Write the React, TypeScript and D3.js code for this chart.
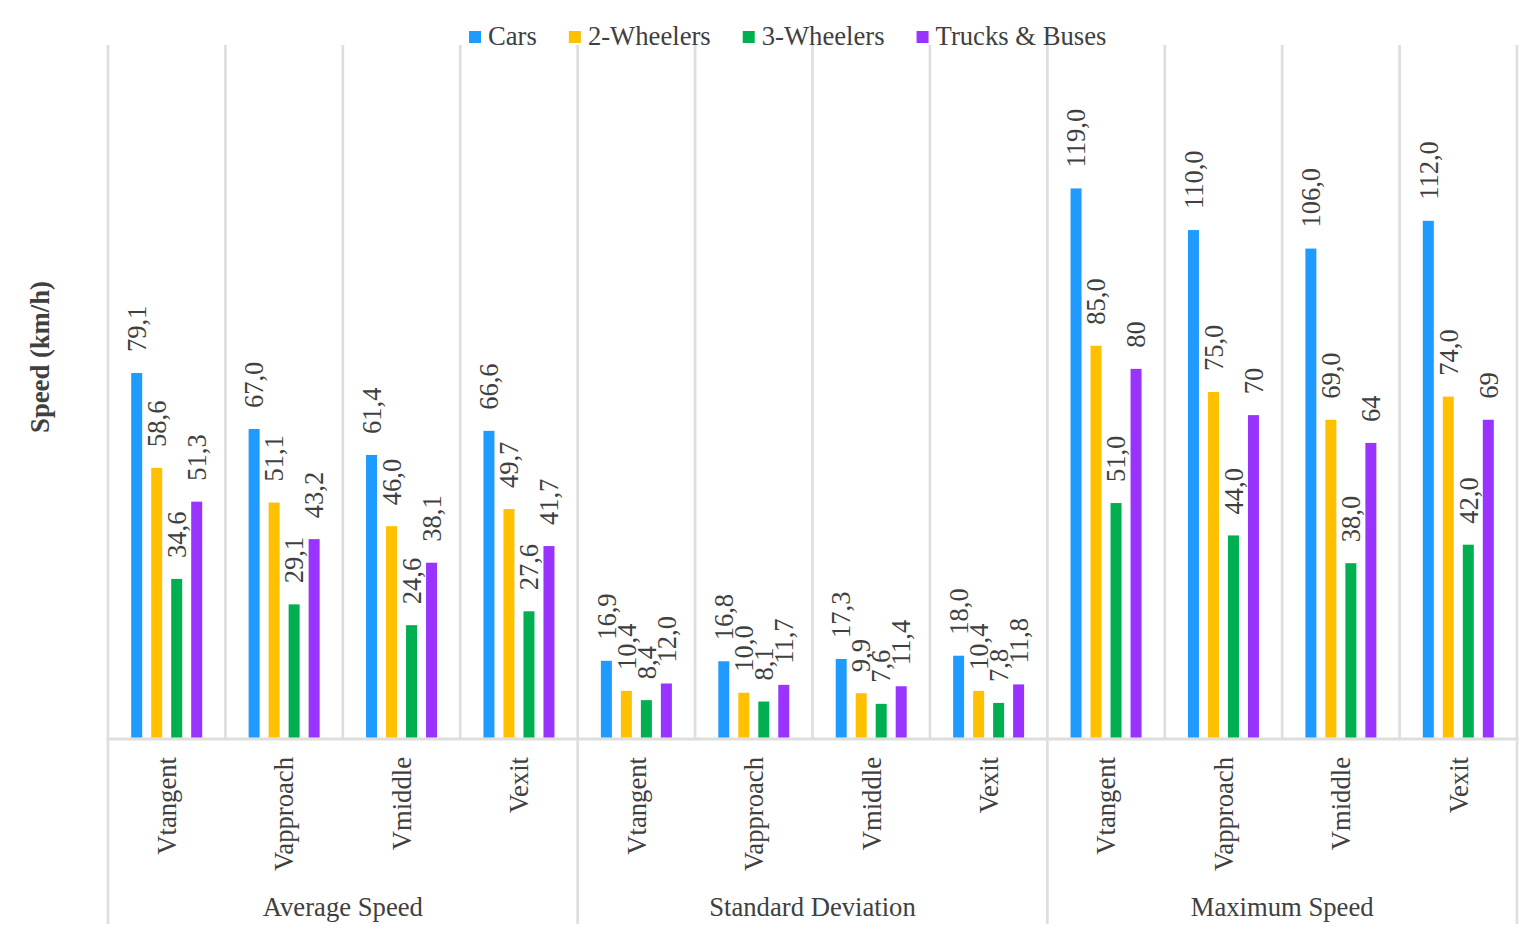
import React, { useEffect, useRef } from "react";
import * as d3 from "d3";

const groups = ["Average Speed", "Standard Deviation", "Maximum Speed"];
const metrics = ["Vtangent", "Vapproach", "Vmiddle", "Vexit"];
const series = ["Cars", "2-Wheelers", "3-Wheelers", "Trucks & Buses"];
const colors = ["#1F9BFF", "#FFC000", "#00B050", "#9933FF"];

// values per category: 4 metrics x 3 groups
const cars = [79.1, 67.0, 61.4, 66.6, 16.9, 16.8, 17.3, 18.0, 119.0, 110.0, 106.0, 112.0];
const twoWheelers = [58.6, 51.1, 46.0, 49.7, 10.4, 10.0, 9.9, 10.4, 85.0, 75.0, 69.0, 74.0];
const threeWheelers = [34.6, 29.1, 24.6, 27.6, 8.4, 8.1, 7.6, 7.8, 51.0, 44.0, 38.0, 42.0];
const trucks = [51.3, 43.2, 38.1, 41.7, 12.0, 11.7, 11.4, 11.8, 80, 70, 64, 69];
// labels of trucks in Maximum Speed are shown without decimals
const integerLabel = [false, false, false, false, false, false, false, false, true, true, true, true];

const yDomain = [0, 150];
const yTitle = "Speed (km/h)";

const W = 1534;
const H = 945;
const FONT = "'Liberation Serif', 'Times New Roman', serif";
const TEXT = "#404040";
const GRID = "#DEDEDC";

export default function App() {
  const ref = useRef<SVGSVGElement | null>(null);

  useEffect(() => {
    const svg = d3.select(ref.current);
    svg.selectAll("*").remove();

    const left = 108, right = 1517, top = 45, base = 739;
    const allSeries = [cars, twoWheelers, threeWheelers, trucks];
    const cats = d3.range(groups.length * metrics.length);

    const x = d3.scaleBand<number>().domain(cats).range([left, right]).padding(0);
    const inner = d3
      .scaleBand<number>()
      .domain(d3.range(series.length))
      .range([-40, 40])
      .paddingInner(0.45)
      .paddingOuter(0.225);
    const y = d3.scaleLinear().domain(yDomain).range([base, top]);

    const fmt1 = (v: number) => d3.format(".1f")(v).replace(".", ",");
    const fmt0 = d3.format("d");

    // vertical gridlines between categories (plot area)
    const gl = svg.append("g");
    cats.concat([cats.length]).forEach((i) => {
      const xx = i < cats.length ? (x(i) as number) : right;
      const isGroup = i % metrics.length === 0;
      gl.append("line")
        .attr("x1", xx).attr("x2", xx)
        .attr("y1", top)
        .attr("y2", isGroup ? 924 : base)
        .attr("stroke", GRID)
        .attr("stroke-width", 2.7);
    });
    // baseline
    gl.append("line")
      .attr("x1", left - 1.5).attr("x2", right + 1.5)
      .attr("y1", base).attr("y2", base)
      .attr("stroke", GRID).attr("stroke-width", 3);

    // bars
    const barsG = svg.append("g");
    allSeries.forEach((vals, s) => {
      vals.forEach((v, i) => {
        const cx = (x(i) as number) + x.bandwidth() / 2;
        const bx = cx + (inner(s) as number);
        barsG.append("rect")
          .attr("x", bx)
          .attr("y", y(v))
          .attr("width", inner.bandwidth())
          .attr("height", base - 1.5 - y(v))
          .attr("fill", colors[s]);
      });
    });

    // data labels
    const lg = svg.append("g")
      .attr("font-family", FONT)
      .attr("font-size", 26.5)
      .attr("fill", TEXT);
    allSeries.forEach((vals, s) => {
      vals.forEach((v, i) => {
        const cx = (x(i) as number) + x.bandwidth() / 2 + (inner(s) as number) + inner.bandwidth() / 2;
        const ty = y(v) - 21;
        const txt = s === 3 && integerLabel[i] ? fmt0(v) : fmt1(v);
        lg.append("text")
          .attr("transform", `translate(${cx},${ty}) rotate(-90)`)
          .attr("dy", "0.35em")
          .attr("text-anchor", "start")
          .text(txt);
      });
    });

    // category labels
    const cg = svg.append("g")
      .attr("font-family", FONT)
      .attr("font-size", 26.67)
      .attr("fill", TEXT);
    cats.forEach((i) => {
      const cx = (x(i) as number) + x.bandwidth() / 2;
      cg.append("text")
        .attr("transform", `translate(${cx},757) rotate(-90)`)
        .attr("dy", "0.35em")
        .attr("text-anchor", "end")
        .text(metrics[i % metrics.length]);
    });
    // group labels
    groups.forEach((g, gi) => {
      const x0 = x(gi * metrics.length) as number;
      const x1 = gi === groups.length - 1 ? right : (x((gi + 1) * metrics.length) as number);
      cg.append("text")
        .attr("x", (x0 + x1) / 2)
        .attr("y", 916)
        .attr("text-anchor", "middle")
        .text(g);
    });

    // y title
    svg.append("text")
      .attr("transform", `translate(40,357) rotate(-90)`)
      .attr("dy", "0.35em")
      .attr("text-anchor", "middle")
      .attr("font-family", FONT)
      .attr("font-size", 26.67)
      .attr("font-weight", "bold")
      .attr("fill", TEXT)
      .text(yTitle);

    // legend
    const leg = svg.append("g")
      .attr("font-family", FONT)
      .attr("font-size", 26.67)
      .attr("fill", TEXT);
    let cursor = 469;
    series.forEach((name, s) => {
      leg.append("rect")
        .attr("x", cursor).attr("y", 31)
        .attr("width", 12).attr("height", 12)
        .attr("fill", colors[s]);
      const t = leg.append("text")
        .attr("x", cursor + 19)
        .attr("y", 45)
        .text(name);
      const w = (t.node() as SVGTextElement).getComputedTextLength();
      cursor = cursor + 19 + w + 32;
    });
  }, []);

  return (
    <svg
      ref={ref}
      width={W}
      height={H}
      style={{ position: "absolute", left: 0, top: 0, background: "#fff" }}
    />
  );
}
